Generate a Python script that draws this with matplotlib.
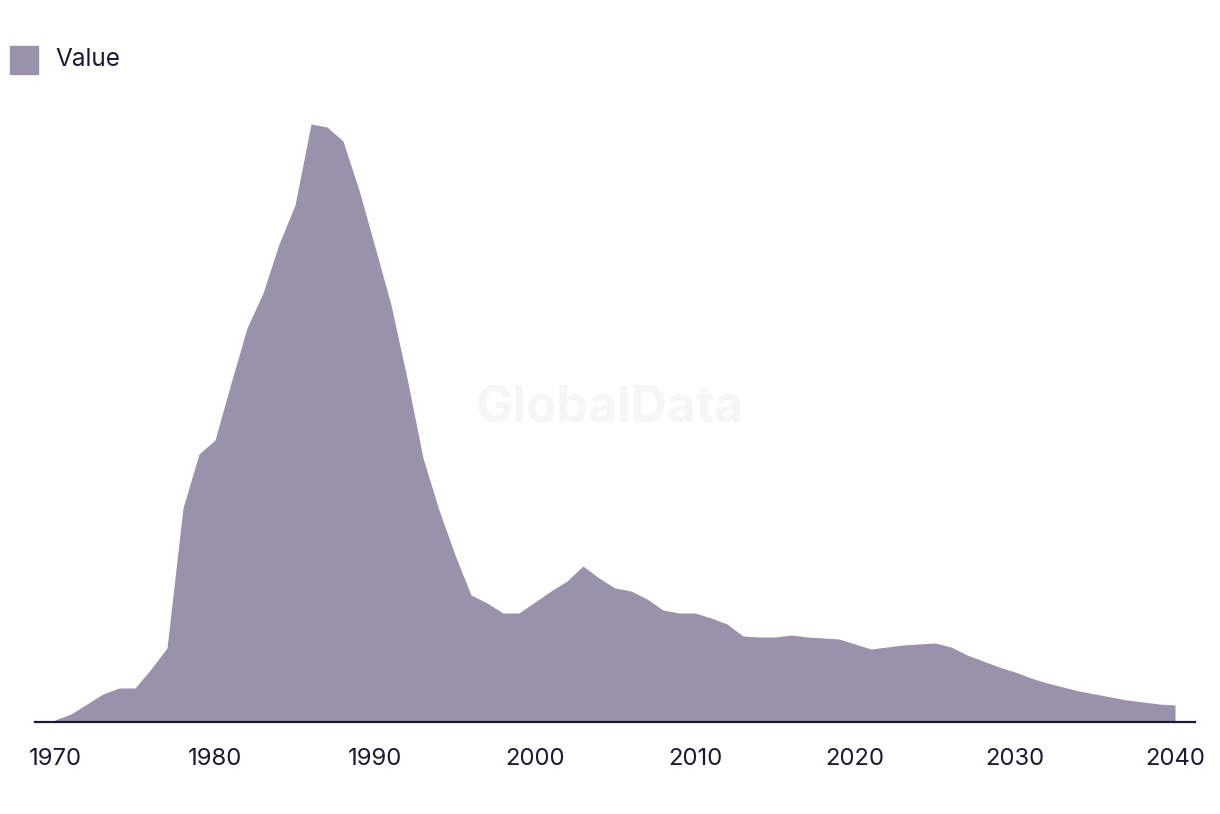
import matplotlib.pyplot as plt

years = list(range(1970, 2041))
values = [2, 8, 18, 28, 34, 34, 53, 74, 214, 268, 282,
          339, 394, 429, 478, 517, 598, 595, 581, 532, 475,
          417, 344, 264, 212, 167, 127, 119, 109, 109, 120,
          131, 141, 156, 144, 134, 131, 123, 112, 109, 109,
          104, 98, 86, 85, 85, 87, 85, 84, 83, 78,
          73, 75, 77, 78, 79, 75, 67, 61, 55, 50,
          44, 39, 35, 31, 28, 25, 22, 20, 18, 17]

fill_color = '#9a91aa'
text_color = '#1c1a30'

plt.rcParams['font.family'] = ['Inter', 'DejaVu Sans']

fig = plt.figure(figsize=(12.2, 8.14), dpi=100)
ax = fig.add_axes([35 / 1220, 1 - 722 / 814, 1160 / 1220, 622 / 814])

ax.fill_between(years, values, 0, color=fill_color, linewidth=0, label='Value')
ax.set_xlim(1968.75, 2041.25)
ax.set_ylim(0, 622)

ax.set_xticks(range(1970, 2041, 10))
ax.tick_params(axis='x', length=0, pad=19, labelsize=17.2, labelcolor=text_color)
ax.set_yticks([])
for s in ['top', 'right', 'left']:
    ax.spines[s].set_visible(False)
ax.spines['bottom'].set_color(text_color)
ax.spines['bottom'].set_linewidth(1.6)

# watermark
fig.text(0.5, 1 - 409 / 814, 'GlobalData', ha='center', va='center',
         fontsize=36, fontweight='bold', color='#f6f6f6', zorder=0)

# legend
fig.patches.append(plt.Rectangle((10 / 1220, 1 - 74 / 814), 28 / 1220, 28 / 814,
                                 transform=fig.transFigure, color=fill_color))
fig.text(55 / 1220, 1 - 59 / 814, 'Value', ha='left', va='center',
         fontsize=17.5, color=text_color)

plt.savefig('out.png')
